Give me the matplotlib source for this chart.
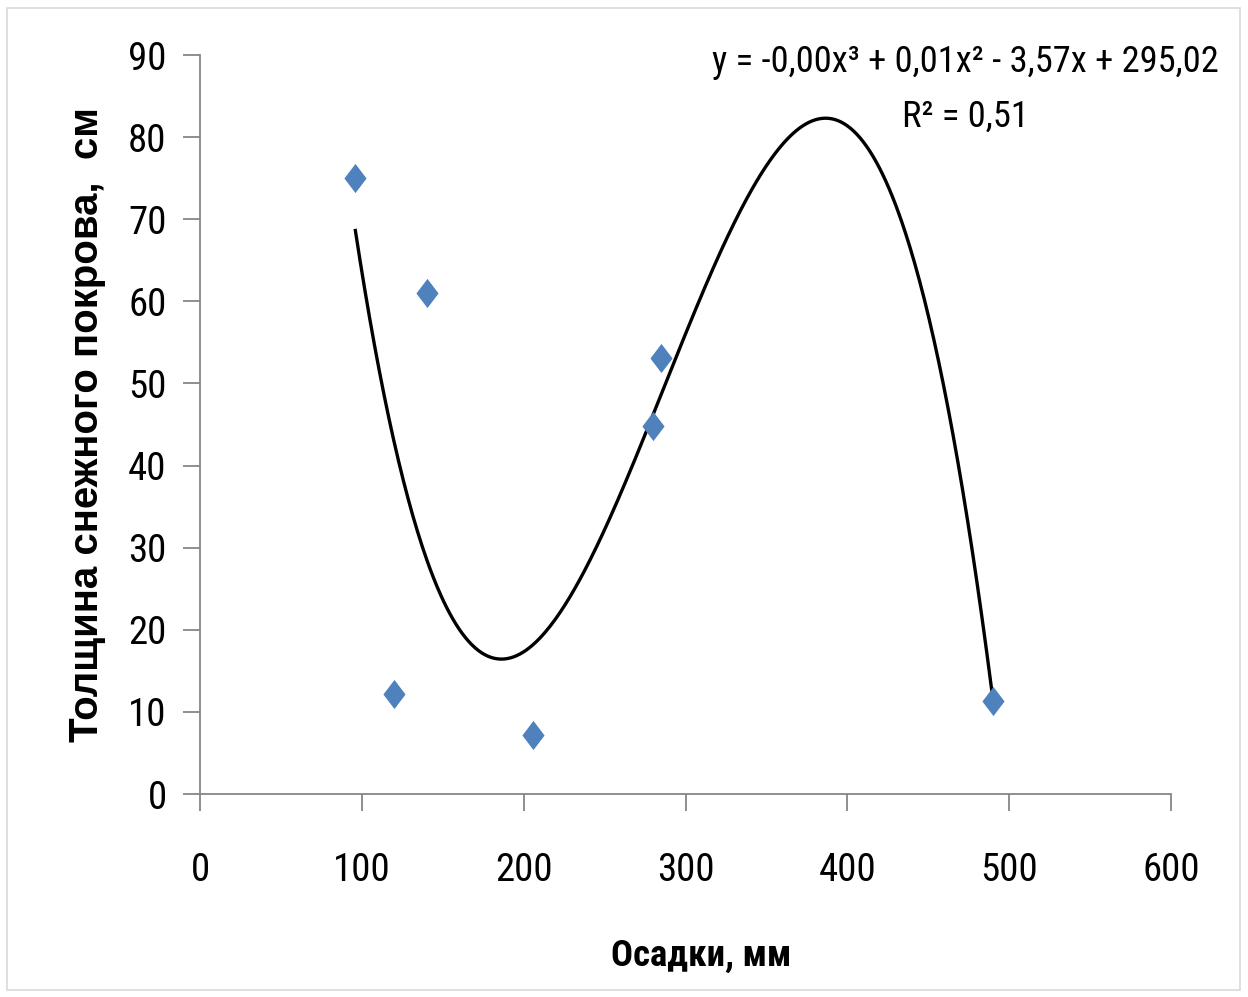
import numpy as np
import matplotlib
matplotlib.use("Agg")
import matplotlib.pyplot as plt
from matplotlib.path import Path
from matplotlib.patches import Rectangle
from matplotlib import font_manager

# Data
precip_mm = [96, 120, 140, 206, 280, 285, 490]
snow_cm = [75, 12.2, 61, 7.2, 44.8, 53.1, 11.3]
x_ticks = [0, 100, 200, 300, 400, 500, 600]
y_ticks = [0, 10, 20, 30, 40, 50, 60, 70, 80, 90]
eq_line1 = "y = -0,00x³ + 0,01x² - 3,57x + 295,02"
eq_line2 = "R² = 0,51"
x_title = "Осадки, мм"
y_title = "Толщина снежного покрова,  см"

avail = {f.name for f in font_manager.fontManager.ttflist}
condensed = None
for cand in ["Roboto Condensed", "Liberation Sans Narrow", "Open Sans Condensed"]:
    if cand in avail:
        condensed = cand
        break
main_font = condensed if condensed else "Roboto"
scale = 1.0 if condensed else 0.82

plt.rcParams['font.family'] = [main_font, "DejaVu Sans"]

fig = plt.figure(figsize=(12.48, 9.97), dpi=100)
fig.patches.append(Rectangle((7/1248, 7/997), 1 - 15/1248, 1 - 15/997,
                             transform=fig.transFigure, fill=False,
                             edgecolor="#d9d9d9", linewidth=1.2))
ax = fig.add_axes([200/1248, 1 - 794/997, 971/1248, 739/997])

# cubic trendline (least squares fit of the data)
coef = np.polyfit(precip_mm, snow_cm, 3)
xs = np.linspace(min(precip_mm), max(precip_mm), 400)
ax.plot(xs, np.polyval(coef, xs), color="black", linewidth=2.4, zorder=2)

diamond = Path([(0, 1), (0.76, 0), (0, -1), (-0.76, 0), (0, 1)],
               [Path.MOVETO, Path.LINETO, Path.LINETO, Path.LINETO, Path.CLOSEPOLY])
ax.plot(precip_mm, snow_cm, linestyle="none", marker=diamond, markersize=21,
        color="#4F81BD", markeredgewidth=0, zorder=3)

ax.set_xlim(0, 600)
ax.set_ylim(0, 90)
ax.set_xticks(x_ticks)
ax.set_yticks(y_ticks)
ax.set_xticklabels([str(t) for t in x_ticks])
ax.set_yticklabels([str(t) for t in y_ticks])

for s in ["top", "right"]:
    ax.spines[s].set_visible(False)
for s in ["left", "bottom"]:
    ax.spines[s].set_color("#868686")
    ax.spines[s].set_linewidth(1.3)
tick_fs = 28 * scale
ax.tick_params(axis="both", colors="#868686", length=12, width=1.3,
               labelcolor="black", labelsize=tick_fs)
ax.tick_params(axis="x", pad=29.5)
ax.tick_params(axis="y", pad=12)

fig.text(701/1248, 1 - 956/997, x_title, fontsize=26.5 * scale, fontweight="bold",
         ha="center", va="center")
fig.text(87/1248, 1 - 425/997, y_title, fontsize=29, fontweight="bold",
         family=["Liberation Sans", "DejaVu Sans"], rotation=90,
         ha="center", va="center")

fig.text(965/1248, 1 - 62/997, eq_line1, fontsize=26.3 * scale,
         ha="center", va="center")
fig.text(965/1248, 1 - 117/997, eq_line2, fontsize=26.3 * scale,
         ha="center", va="center")

fig.savefig("out.png", dpi=100)
